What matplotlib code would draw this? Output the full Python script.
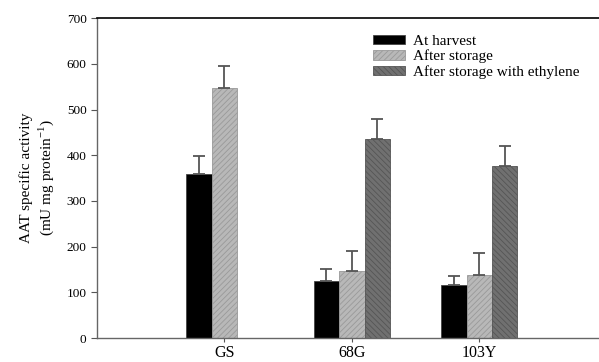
import numpy as np
import matplotlib
matplotlib.use('Agg')
import matplotlib.pyplot as plt

plt.rcParams['font.family'] = 'Liberation Serif'
plt.rcParams['hatch.linewidth'] = 0.6

cultivars = ['GS', '68G', '103Y']
at_harvest = [360, 125, 116]
at_harvest_err = [38, 27, 20]
after_storage = [548, 147, 139]
after_storage_err = [48, 44, 48]
ethylene = [np.nan, 435, 377]
ethylene_err = [0, 44, 44]

fig = plt.figure(figsize=(5.99, 3.62), dpi=100)
ax = fig.add_axes([0.162, 0.066, 0.838, 0.884])

x = np.arange(1, len(cultivars) + 1)
w = 0.2
err_kw = dict(ecolor='#555555', elinewidth=1.3, capsize=4, capthick=1.3)

ax.bar(x - w, at_harvest, w, color='black', edgecolor='#444444', linewidth=0.6,
       yerr=[np.zeros(3), at_harvest_err], error_kw=err_kw, label='At harvest')
ax.bar(x, after_storage, w, color='#b8b8b8', edgecolor='#999999', hatch='//////',
       linewidth=0.6, yerr=[np.zeros(3), after_storage_err], error_kw=err_kw,
       label='After storage')
ax.bar(x + w, ethylene, w, color='#707070', edgecolor='#555555', hatch='\\\\\\\\\\\\',
       linewidth=0.6, yerr=[np.zeros(3), ethylene_err], error_kw=err_kw,
       label='After storage with ethylene')

ax.set_xlim(0, 3.94)
ax.set_ylim(0, 700)
ax.set_yticks(range(0, 701, 100))
ax.set_xticks(x)
ax.set_xticklabels(cultivars, fontsize=11.5)
ax.tick_params(axis='y', labelsize=9.5, length=4, width=0.8, color='#555555')
ax.tick_params(axis='x', length=3, width=0.8, color='#555555', pad=2)

ax.spines['right'].set_visible(False)
ax.spines['top'].set_color('black')
ax.spines['top'].set_linewidth(1.2)
for s in ['left', 'bottom']:
    ax.spines[s].set_color('#666666')
    ax.spines[s].set_linewidth(1.0)

ax.set_ylabel('AAT specific activity\n(mU mg protein$^{\\mathregular{-1}}$)', fontsize=11, labelpad=8)

ax.legend(loc='upper left', bbox_to_anchor=(0.55, 0.948), frameon=False, fontsize=11,
          handlelength=2.1, handleheight=0.55, labelspacing=0.12, handletextpad=0.5,
          borderaxespad=0, borderpad=0)

fig.savefig('out.png', dpi=100)
